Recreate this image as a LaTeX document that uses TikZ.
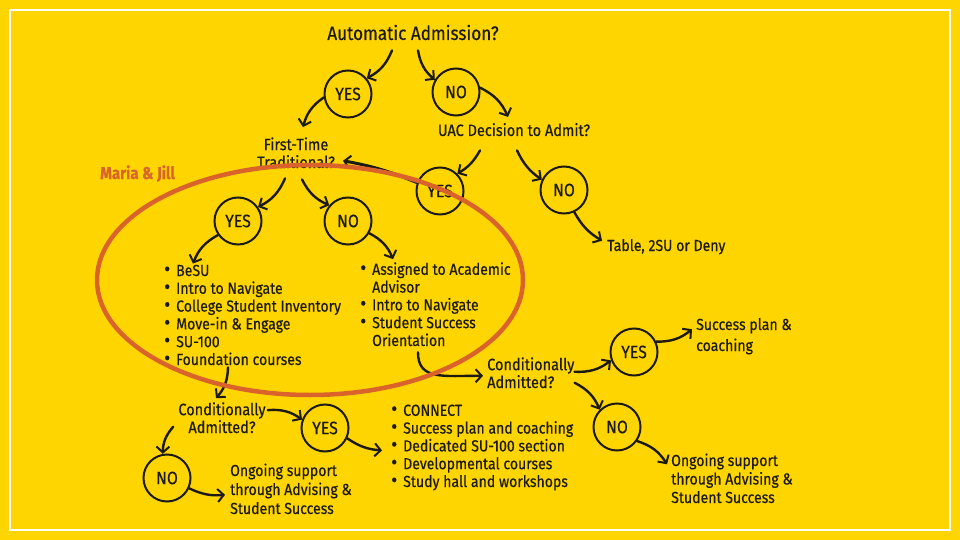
\documentclass[tikz,border=0pt]{standalone}
\usepackage{fontspec}
\setmainfont{Fira Sans}[FakeStretch=0.88, FakeBold=0.4]
\usetikzlibrary{arrows.meta,positioning,calc}
\definecolor{bgyellow}{HTML}{FFD500}
\definecolor{inkdark}{HTML}{1C1A12}
\definecolor{markorange}{HTML}{D9632A}
\tikzset{
	answer/.style = {circle, draw = inkdark, line width = 2pt, minimum size = 47pt, inner sep = 0pt,
		text = inkdark, font = \fontsize{18}{18}\selectfont},
	question/.style = {inner sep = 0pt, text = inkdark, align = center, font = \fontsize{16.5}{17.8}\selectfont},
	note/.style = {inner sep = 0pt, text = inkdark, align = left, anchor = base west, font = \fontsize{16}{17.8}\selectfont},
	flow/.style = {line width = 2.4pt, draw = inkdark, line cap = round,
		-{Straight Barb[length = 6pt, width = 13pt, line width = 2pt]}}
}
\newcommand{\bul}{\llap{\scalebox{1.3}{\textbullet}\hspace{6pt}}}
\begin{document}
\begin{tikzpicture}[x = 1pt, y = -1pt]
		\fill[bgyellow] (0,0) rectangle (960,540);
		\useasboundingbox (0,0) rectangle (960,540);
		\draw[white, line width = 2.5pt] (10,10) rectangle (950,530);
		% questions (base = baseline of the last line)
		\node[question, anchor = base, font = \fontsize{19.5}{20}\selectfont] (auto) at (413,40) {Automatic Admission?};
		\node[question, anchor = base] (uac) at (514,136) {UAC Decision to Admit?};
		\node[question, anchor = base] (ftt) at (296,168) {First-Time\\Traditional?};
		\node[question, anchor = base west, align = left] (condR) at (487,388) {Conditionally\\Admitted?};
		\node[question, anchor = base] (condB) at (222,433) {Conditionally\\Admitted?};
		% answers
		\node[answer] (yesAuto) at (348,94) {YES};
		\node[answer] (noAuto) at (456,92) {NO};
		\node[answer] (yesUAC) at (440,191) {YES};
		\node[answer] (noUAC) at (564,190) {NO};
		\node[answer] (yesFTT) at (238,221) {YES};
		\node[answer] (noFTT) at (348,221) {NO};
		\node[answer] (yesCondR) at (634,352) {YES};
		\node[answer] (noCondR) at (617,427) {NO};
		\node[answer] (yesCondB) at (325,428) {YES};
		\node[answer] (noCondB) at (167,478) {NO};
		% outcomes
		\node[note] (table) at (607,251) {Table, 2SU or Deny};
		\node[note, font = \fontsize{16}{21}\selectfont] (planR) at (696,351) {Success plan \&\\coaching};
		\node[note, font = \fontsize{16}{18.5}\selectfont] (ongoingR) at (671,503) {Ongoing support\\through Advising \&\\Student Success};
		\node[note, font = \fontsize{16}{19}\selectfont] (ongoingB) at (230,514) {Ongoing support\\through Advising \&\\Student Success};
		\node[note] (listFTT) at (176,365) {\bul BeSU\\\bul Intro to Navigate\\\bul College Student Inventory\\\bul Move-in \& Engage\\\bul SU-100\\\bul Foundation courses};
		\node[note] (listNot) at (372,346) {\bul Assigned to Academic\\Advisor\\\bul Intro to Navigate\\\bul Student Success\\Orientation};
		\node[note] (listCond) at (403,487) {\bul CONNECT\\\bul Success plan and coaching\\\bul Dedicated SU-100 section\\\bul Developmental courses\\\bul Study hall and workshops};
		% connectors
		\draw[flow] ($(auto.south)+(-21,10)$) to[bend left = 20] (yesAuto.40);
		\draw[flow] ($(auto.south)+(5,10)$) to[bend right = 20] (noAuto.150);
		\draw[flow] (yesAuto.188) to[bend right = 20] ($(ftt.north)+(7,-10)$);
		\draw[flow] (noAuto.10) to[bend left = 20] ($(uac.north)+(-6,-6)$);
		\draw[flow] ($(uac.south)+(-34,14)$) to[bend left = 15] (yesUAC.45);
		\draw[flow] ($(uac.south)+(3,14)$) to[bend right = 15] (noUAC.155);
		\draw[flow, line width = 3pt] (yesUAC.160) to[bend right = 6] ($(ftt.east)+(8,8)$);
		\draw[flow] (noUAC.-65) to[bend right = 15] ($(table.west)+(-5,-6)$);
		\draw[flow] ($(ftt.south)+(-11,10)$) to[bend left = 20] (yesFTT.35);
		\draw[flow] ($(ftt.south)+(6,11)$) to[bend right = 20] (noFTT.140);
		\draw[flow] (yesFTT.215) to[bend right = 20] ($(listFTT.north west)+(17,-1)$);
		\draw[flow] (noFTT.-30) to[bend left = 20] ($(listNot.north west)+(21,-3)$);
		\draw[flow] ($(listNot.south west)+(46,6)$) .. controls +(0,28) and +(-40,0) .. ($(condR.west)+(-4,3)$);
		\draw[flow] ($(listFTT.south west)+(52,2)$) to[bend left = 20] ($(condB.north)+(-6,-4)$);
		\draw[flow] ($(condB.north east)+(2,8)$) to[bend left = 20] (yesCondB.160);
		\draw[flow] ($(condB.west)+(-5,9)$) to[bend right = 20] (noCondB.100);
		\draw[flow] (noCondB.-25) to[bend right = 15] ($(ongoingB.west)+(-5,6)$);
		\draw[flow] (yesCondB.-25) to[bend right = 15] ($(listCond.north west)+(-21,46)$);
		\draw[flow] ($(condR.east)+(0,-1)$) to[bend right = 20] (yesCondR.200);
		\draw[flow] ($(condR.east)+(0,10)$) to[bend left = 20] (noCondR.135);
		\draw[flow] (yesCondR.25) to[bend right = 20] ($(planR.west)+(-4,-7)$);
		\draw[flow] (noCondR.-35) to[bend left = 20] ($(ongoingR.north west)+(-4,11)$);
		% group marking
		\draw[markorange, line width = 4.5pt] (310,280) ellipse [x radius = 213, y radius = 115];
		\node[inner sep = 0pt, anchor = base west, text = markorange, font = \fontsize{17}{18}\bfseries] (team) at (100,179) {Maria \& Jill};
	\end{tikzpicture}
\end{document}
